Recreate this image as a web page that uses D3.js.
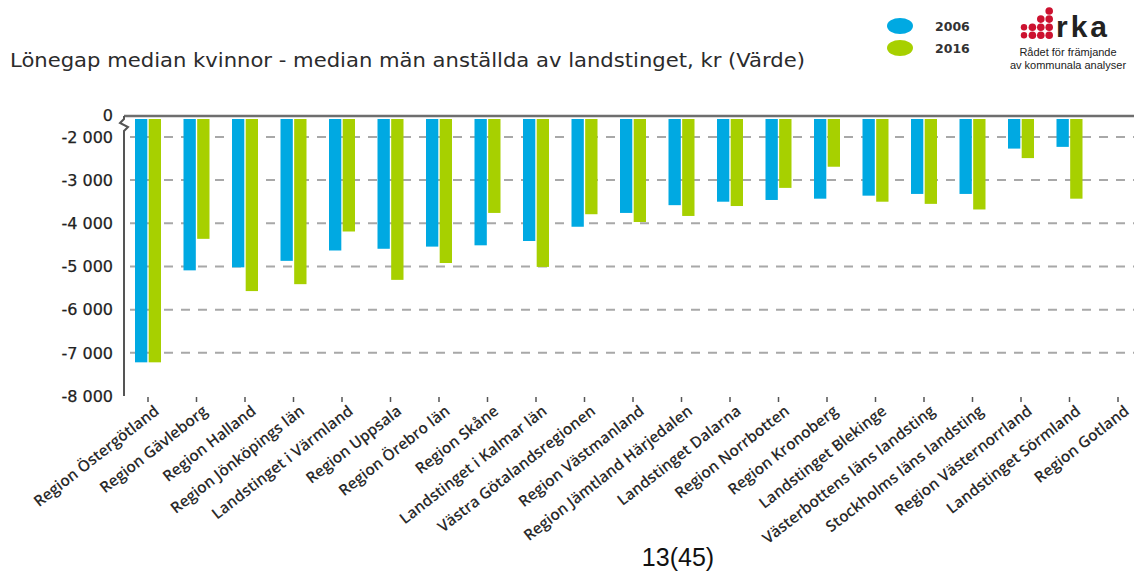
<!DOCTYPE html>
<meta charset="utf-8">
<style type="text/css">
    body { margin: 0; background: #fff; }
    svg { display: block; }
    .grid line { stroke: #a8a8a8; stroke-width: 2; stroke-dasharray: 9 8; }
    .ylab { font-family: "DejaVu Sans", sans-serif; font-size: 16px; fill: #222; text-anchor: end; stroke: #222; stroke-width: 0.25; }
    .xlab { font-family: "Open Sans", sans-serif; font-size: 15.5px; font-weight: 600; fill: #2a2a2a; text-anchor: end; }
</style>
<body>
</body>
<script type="text/javascript" src="https://d3js.org/d3.v7.min.js"></script>
<script>
    // categories (left to right) and the two series, kr
    var regions = [
        "Region Östergötland", "Region Gävleborg", "Region Halland", "Region Jönköpings län",
        "Landstinget i Värmland", "Region Uppsala", "Region Örebro län", "Region Skåne",
        "Landstinget i Kalmar län", "Västra Götalandsregionen", "Region Västmanland",
        "Region Jämtland Härjedalen", "Landstinget Dalarna", "Region Norrbotten",
        "Region Kronoberg", "Landstinget Blekinge", "Västerbottens läns landsting",
        "Stockholms läns landsting", "Region Västernorrland", "Landstinget Sörmland",
        "Region Gotland"
    ];
    var gap2006 = [-7220, -5090, -5020, -4870, -4630, -4590, -4540, -4510, -4410, -4080,
        -3760, -3580, -3500, -3460, -3430, -3360, -3320, -3320, -2270, -2230, null];
    var gap2016 = [-7220, -4360, -5570, -5410, -4190, -5310, -4920, -3760, -5010, -3790,
        -3970, -3830, -3600, -3180, -2690, -3500, -3550, -3680, -2490, -3430, null];
    var years = ["2006", "2016"];
    var yTicks = [-2000, -3000, -4000, -5000, -6000, -7000, -8000];
    var gridTicks = [-2000, -3000, -4000, -5000, -6000, -7000];
    var axisTop = -1515; // broken axis: top of the scale is shown as "0"

    var W = 1134, H = 571;
    var colors = { "2006": "#00a9e2", "2016": "#a7d000" };

    var svg = d3.select("body").append("svg")
        .attr("width", W)
        .attr("height", H);

    var x0 = d3.scaleBand().domain(regions).range([123.75, 1142.25]);
    var x1 = d3.scaleBand().domain(years).range([-13, 13]).paddingInner(0.1);
    var y = d3.scaleLinear().domain([axisTop, -8000]).range([116, 396]);

    var loc = d3.formatLocale({ decimal: ",", thousands: " ", grouping: [3], currency: ["", ""], minus: "-" });
    var fmt = loc.format(",d");

    // title
    svg.append("text")
        .attr("x", 10).attr("y", 67)
        .attr("font-family", "DejaVu Sans, sans-serif")
        .attr("font-size", "19.5px")
        .attr("fill", "#2b2b2b")
        .attr("textLength", 795)
        .attr("lengthAdjust", "spacingAndGlyphs")
        .text("Lönegap median kvinnor - median män anställda av landstinget, kr (Värde)");

    // gridlines
    svg.append("g").attr("class", "grid")
        .selectAll("line").data(gridTicks).enter().append("line")
        .attr("x1", 130).attr("x2", W)
        .attr("y1", d => y(d)).attr("y2", d => y(d));

    // bars
    var rows = regions.map((r, i) => ({ region: r, values: [
        { year: "2006", v: gap2006[i] }, { year: "2016", v: gap2016[i] }] }));

    svg.append("g").selectAll("g").data(rows).enter().append("g")
        .attr("transform", d => "translate(" + (x0(d.region) + x0.bandwidth() / 2) + ",0)")
        .selectAll("rect").data(d => d.values.filter(e => e.v != null)).enter().append("rect")
        .attr("x", d => x1(d.year))
        .attr("width", x1.bandwidth())
        .attr("y", y(axisTop) + 3)
        .attr("height", d => y(d.v) - y(axisTop) - 3)
        .attr("fill", d => colors[d.year]);

    // top axis line
    svg.append("line")
        .attr("x1", 124).attr("x2", 1140)
        .attr("y1", y(axisTop)).attr("y2", y(axisTop))
        .attr("stroke", "#6e6e6e").attr("stroke-width", 2.5);

    // y axis line with break mark
    var yl = y(axisTop);
    svg.append("path")
        .attr("d", "M124," + yl + "V" + (yl + 3) + "L120," + (yl + 7) + "L128," + (yl + 11) +
            "L124," + (yl + 15) + "V" + y(-8000))
        .attr("fill", "none").attr("stroke", "#555").attr("stroke-width", 2);

    // y tick labels
    svg.append("text").attr("class", "ylab")
        .attr("x", 113).attr("y", y(axisTop)).attr("dy", "0.32em")
        .text("0");
    svg.append("g").selectAll("text").data(yTicks).enter().append("text")
        .attr("class", "ylab")
        .attr("x", 113).attr("y", d => y(d)).attr("dy", "0.36em")
        .text(d => fmt(d));

    // category ticks
    svg.append("g").selectAll("line").data(regions).enter().append("line")
        .attr("x1", d => x0(d) + x0.bandwidth() / 2).attr("x2", d => x0(d) + x0.bandwidth() / 2)
        .attr("y1", 397).attr("y2", 402)
        .attr("stroke", "#555").attr("stroke-width", 1.5);

    // category labels
    svg.append("g").selectAll("text").data(regions).enter().append("text")
        .attr("class", "xlab")
        .attr("transform", d => "translate(" + (x0(d) + x0.bandwidth() / 2 + 12) + ",413) rotate(-38)")
        .text(d => d);

    // legend
    var lg = svg.append("g").selectAll("g").data(years).enter().append("g")
        .attr("transform", (d, i) => "translate(900," + (26 + i * 22) + ")");
    lg.append("ellipse").attr("rx", 13).attr("ry", 8).attr("fill", d => colors[d]);
    lg.append("text")
        .attr("x", 35).attr("y", 5)
        .attr("font-family", "DejaVu Sans, sans-serif").attr("font-weight", "bold")
        .attr("font-size", "12.5px").attr("fill", "#333")
        .text(d => d);

    // logo
    var logo = svg.append("g");
    var dotCols = [2, 2, 3, 4];
    dotCols.forEach(function (n, c) {
        for (var k = 0; k < n; k++) {
            logo.append("circle")
                .attr("cx", 1024 + c * 8.4).attr("cy", 35.3 - k * 8.1)
                .attr("r", c < 1 ? 3.2 : 3.8).attr("fill", "#cc1230");
        }
    });
    logo.append("text")
        .attr("x", 1056).attr("y", 37)
        .attr("font-family", "Liberation Sans, Arial, sans-serif").attr("font-weight", "bold")
        .attr("font-size", "30px").attr("letter-spacing", "3px").attr("fill", "#222")
        .text("rka");
    logo.selectAll("text.sub").data(["Rådet för främjande", "av kommunala analyser"]).enter()
        .append("text").attr("class", "sub")
        .attr("x", 1068).attr("y", (d, i) => 56 + i * 12.5)
        .attr("text-anchor", "middle")
        .attr("font-family", "Liberation Sans, Arial, sans-serif")
        .attr("font-size", "11px").attr("fill", "#222")
        .text(d => d);

    // page number
    svg.append("text")
        .attr("x", 678).attr("y", 566)
        .attr("text-anchor", "middle")
        .attr("font-family", "Liberation Sans, Arial, sans-serif")
        .attr("font-size", "25px").attr("fill", "#111")
        .text("13(45)");
</script>
